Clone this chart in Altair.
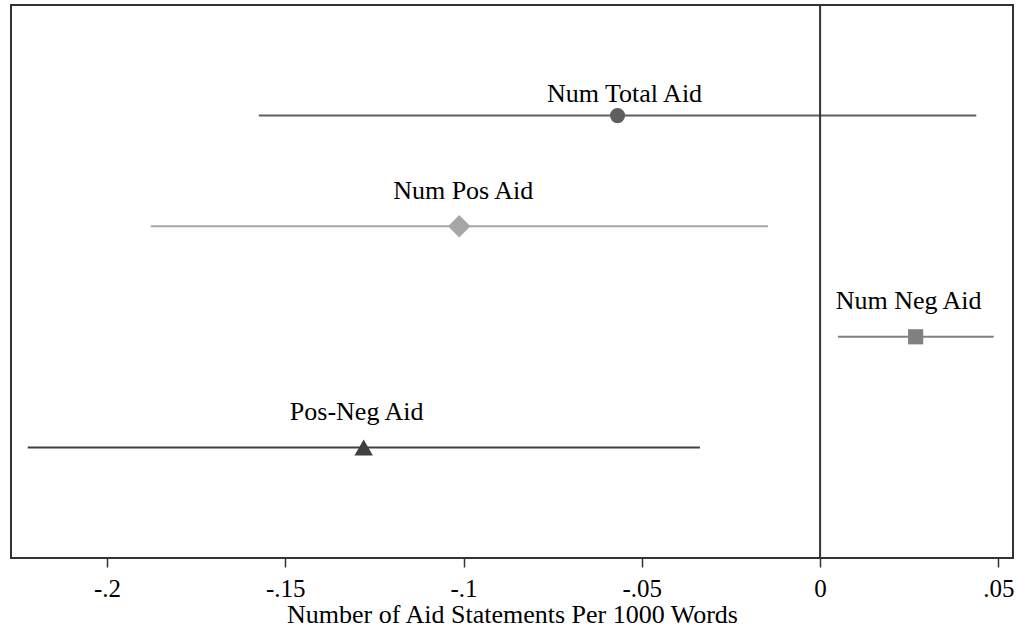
import altair as alt
import pandas as pd

# Coefficient estimates with 95% confidence intervals
labels = ["Num Total Aid", "Num Pos Aid", "Num Neg Aid", "Pos-Neg Aid"]
estimates = [-0.0568, -0.1012, 0.0268, -0.1280]
ci_low = [-0.1574, -0.1877, 0.0050, -0.2222]
ci_high = [0.0438, -0.0146, 0.0487, -0.0337]
rows = [1, 2, 3, 4]

colors = ["#5f5f5f", "#a6a6a6", "#808080", "#404040"]
shapes = ["circle", "diamond", "square", "triangle-up"]
sizes = [230, 500, 230, 340]

# Marker-label placement (pixel nudges from the marker position)
label_dx = [7, 4, -7, -7]
label_dy = [-14, -27, -28, -27]

x_ticks = [-0.2, -0.15, -0.1, -0.05, 0, 0.05]
x_tick_text = ["-.2", "-.15", "-.1", "-.05", "0", ".05"]

df = pd.DataFrame({
    "label": labels,
    "est": estimates,
    "lo": ci_low,
    "hi": ci_high,
    "row": rows,
})

FONT = "Liberation Serif"
# Tick values are matched approximately to avoid float noise
label_expr = " : ".join(
    f"abs(datum.value - ({v})) < 1e-9 ? '{t}'" for v, t in zip(x_ticks, x_tick_text)
) + " : ''"

x_scale = alt.Scale(domain=[-0.2269, 0.0541], nice=False, zero=False)
y_scale = alt.Scale(domain=[0, 5], reverse=True, nice=False, zero=False)

x_axis = alt.Axis(
    values=x_ticks,
    labelExpr=label_expr,
    grid=False,
    domain=False,
    tickSize=9,
    tickWidth=1.5,
    tickColor="#333333",
    labelFont=FONT,
    labelFontSize=25,
    labelColor="#000000",
    labelPadding=9,
    titleFont=FONT,
    titleFontSize=26,
    titleFontWeight="normal",
    titleColor="#000000",
    titlePadding=0,
)

y_enc = alt.Y("row:Q", scale=y_scale, axis=None)
color_enc = alt.Color("label:N", scale=alt.Scale(domain=labels, range=colors), legend=None)

# Confidence interval bars
ci = alt.Chart(df).mark_rule(strokeWidth=2).encode(
    x=alt.X("lo:Q", scale=x_scale, axis=x_axis,
            title="Number of Aid Statements Per 1000 Words"),
    x2="hi:Q",
    y=y_enc,
    color=color_enc,
)

# Reference line at zero
zero_line = alt.Chart(pd.DataFrame({"z": [0]})).mark_rule(
    color="#333333", strokeWidth=2
).encode(x=alt.X("z:Q", scale=x_scale))

# One marker layer and one label layer per estimate
layers = []
for name, shape, size, dx, dy in zip(labels, shapes, sizes, label_dx, label_dy):
    base = alt.Chart(df).transform_filter(alt.datum.label == name)
    layers.append(
        base.mark_point(filled=True, opacity=1, shape=shape, size=size).encode(
            x=alt.X("est:Q", scale=x_scale),
            y=y_enc,
            color=color_enc,
        )
    )
    layers.append(
        base.mark_text(
            font=FONT, fontSize=26, color="#000000", baseline="alphabetic",
            dx=dx, dy=dy,
        ).encode(
            x=alt.X("est:Q", scale=x_scale),
            y=y_enc,
            text="label:N",
        )
    )

chart = alt.layer(ci, zero_line, *layers).properties(
    width=1002,
    height=553,
    autosize=alt.AutoSizeParams(type="none"),
    padding={"left": 11, "top": 5, "right": 3, "bottom": 73},
    background="#ffffff",
).configure_view(
    stroke="#333333",
    strokeWidth=2,
)

chart.save("out.html", embed_options={"renderer": "svg", "actions": False})
